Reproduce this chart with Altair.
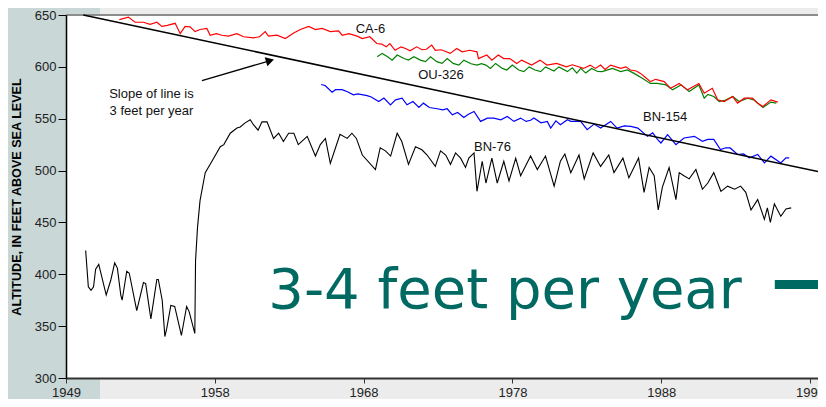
import altair as alt
import pandas as pd

# ---------------- data ----------------
BN76_YEAR = [1950.32, 1950.5, 1950.68, 1950.85, 1950.99, 1951.2, 1951.7, 1952.0, 1952.27, 1952.45,
             1952.68, 1952.77, 1953.08, 1953.25, 1953.75, 1954.2, 1954.35, 1954.7, 1955.1, 1955.2,
             1955.46, 1955.64, 1955.77, 1956.04, 1956.3, 1956.75, 1957.1, 1957.27, 1957.65, 1957.7,
             1957.83, 1958.0, 1958.35, 1958.8, 1959.36, 1959.6, 1960.03, 1960.48, 1960.7, 1961.03,
             1961.37, 1961.6, 1961.9, 1962.16, 1962.5, 1962.94, 1963.28, 1963.6, 1963.95, 1964.3,
             1964.6, 1965.2, 1965.75, 1966.08, 1966.42, 1966.75, 1967.1, 1967.4, 1967.88, 1968.2,
             1968.5, 1968.9, 1969.78, 1970.1, 1970.45, 1970.8, 1971.24, 1971.55, 1972.0, 1972.47,
             1972.9, 1973.25, 1973.8, 1974.15, 1974.5, 1974.82, 1975.16, 1975.5, 1975.83, 1976.05,
             1976.4, 1976.6, 1976.95, 1977.2, 1977.6, 1977.96, 1978.4, 1978.75, 1979.2, 1979.53,
             1980.2, 1980.65, 1981.2, 1981.78, 1982.2, 1982.5, 1982.9, 1983.45, 1983.8, 1984.4,
             1984.9, 1985.45, 1985.8, 1986.4, 1986.8, 1987.45, 1987.82, 1988.16, 1988.5, 1988.77,
             1989.05, 1989.5, 1989.96, 1990.18, 1990.5, 1990.85, 1991.3, 1991.74, 1992.1, 1992.5,
             1992.98, 1993.43, 1993.9, 1994.3, 1994.65, 1995.0, 1995.45, 1995.9, 1996.1, 1996.3,
             1996.57, 1997.0, 1997.35, 1997.7]
BN76_ALT = [423, 388, 384.5, 388, 405, 409.5, 380, 394, 411, 406,
            380, 375, 403, 401, 365, 392, 391, 357, 395, 395,
            375, 340, 348, 370, 369, 341, 369, 364, 343, 413,
            445, 471, 498, 509, 523, 525, 536, 541, 542, 546,
            549, 544, 539, 547, 547, 531, 536, 528, 536, 536,
            525, 533, 514, 525, 531, 507, 522, 535, 531, 536,
            531, 515, 501, 522, 519, 514, 536, 528, 506, 523,
            520, 515, 504, 519, 515, 506, 517, 512, 503, 512,
            517, 480, 509, 488, 512, 488, 509, 490, 512, 495,
            514, 501, 514, 485, 509, 516, 498, 515, 492, 517,
            504, 515, 498, 512, 493, 512, 479, 503, 495, 462,
            484, 503, 472, 498, 495, 492, 501, 482, 488, 498,
            480, 485, 482, 485, 479, 462, 472, 453, 464, 450,
            468, 456, 463, 464]

CA6_YEAR = [1952.58, 1953.19, 1953.64, 1954.2, 1954.65, 1955.1, 1955.44, 1955.8, 1956.33, 1956.67,
            1957.0, 1957.33, 1957.67, 1958.0, 1958.46, 1958.68, 1959.1, 1959.47, 1959.9, 1960.48,
            1960.92, 1961.6, 1962.0, 1962.38, 1962.6, 1963.17, 1963.73, 1964.29, 1964.74, 1965.3,
            1965.75, 1966.2, 1966.75, 1967.3, 1967.55, 1968.0, 1968.55, 1968.9, 1969.4, 1969.87,
            1970.2, 1970.5, 1970.75, 1971.1, 1971.5, 1971.8, 1972.1, 1972.55, 1972.9, 1973.2,
            1973.56, 1973.8, 1974.2, 1974.8, 1975.24, 1975.6, 1976.1, 1976.6, 1976.7, 1977.26,
            1977.6, 1978.03, 1978.4, 1978.8, 1979.27, 1979.6, 1980.27, 1980.83, 1981.3, 1981.95,
            1982.6, 1983.0, 1983.75, 1984.2, 1984.55, 1984.9, 1985.2, 1985.58, 1986.25, 1986.6,
            1986.9, 1987.3, 1987.58, 1987.9, 1988.24, 1988.6, 1989.17, 1989.6, 1990.18, 1990.74,
            1991.5, 1991.86, 1992.4, 1992.76, 1993.2, 1993.77, 1994.1, 1994.55, 1995.1, 1995.45,
            1995.8, 1996.34, 1996.8]
CA6_ALT = [645.5, 648, 643, 643, 641, 643, 639, 640, 642, 632,
           639, 638.5, 634, 636, 637, 630.5, 632, 630.5, 629.6, 632,
           629, 628, 629, 634, 629.6, 630.5, 627.3, 632.7, 636, 639,
           636, 637, 634, 634.7, 630.5, 632, 629.6, 627.3, 629, 622.5,
           622, 619.3, 622.5, 616, 619.3, 617.7, 615.5, 619.3, 616.5, 617,
           621, 616, 616.5, 613, 617.7, 614.5, 616, 614.5, 608, 611.4,
           606.5, 611.4, 608, 608, 603.3, 606.5, 601.7, 606.5, 601.7, 603.3,
           600, 602, 598.5, 601.7, 598.5, 601.7, 597.5, 601.7, 598.5, 600,
           597, 596, 593.7, 590, 585.8, 588, 585.8, 579.3, 584, 577.8,
           584, 574.6, 579.3, 568.2, 566.6, 571.4, 565, 569.8, 569.8, 565,
           561.8, 568.2, 566]

OU326_YEAR = [1969.9, 1970.23, 1970.6, 1970.9, 1971.24, 1971.7, 1972.0, 1972.36, 1972.8, 1973.14,
              1973.48, 1973.9, 1974.26, 1974.6, 1975.0, 1975.38, 1975.72, 1976.2, 1976.6, 1976.9,
              1977.2, 1977.5, 1977.85, 1978.3, 1978.6, 1978.97, 1979.4, 1979.75, 1980.1, 1980.5,
              1980.88, 1981.2, 1981.77, 1982.1, 1982.67, 1983.0, 1983.3, 1983.57, 1983.9, 1984.3,
              1984.7, 1985.0, 1985.7, 1986.25, 1986.7, 1987.15, 1987.7, 1988.24, 1988.7, 1989.3,
              1989.73, 1990.3, 1990.85, 1991.5, 1991.86, 1992.1, 1992.5, 1992.87, 1993.3, 1993.77,
              1994.2, 1994.77, 1995.2, 1995.8, 1996.34, 1996.7]
OU326_ALT = [609.7, 613, 609.7, 606.5, 611.4, 608, 606.5, 609.7, 606.5, 605,
             609.7, 605, 603.3, 608, 603.3, 601.7, 606.5, 603, 601.7, 603,
             601.7, 598.5, 603.3, 598.5, 597, 601.7, 597, 595.4, 600, 597,
             595.4, 600, 596, 600, 595.4, 599, 594, 598.5, 594, 598.5,
             595.5, 595.4, 598.5, 595.4, 597, 593.7, 589, 584, 584, 582.6,
             577.8, 582.6, 576.2, 582.6, 569.8, 573.5, 571.4, 566.6, 568, 571.4,
             566.6, 569.8, 568, 560.8, 566, 565]

BN154_YEAR = [1966.13, 1966.4, 1966.87, 1967.1, 1967.54, 1967.9, 1968.3, 1968.6, 1969.22, 1969.5,
              1970.0, 1970.35, 1970.79, 1971.13, 1971.57, 1971.9, 1972.3, 1972.7, 1973.0, 1973.4,
              1973.93, 1974.3, 1974.6, 1974.94, 1975.3, 1975.72, 1976.0, 1976.4, 1976.84, 1977.3,
              1977.73, 1978.2, 1978.63, 1979.08, 1979.53, 1979.9, 1980.2, 1980.42, 1980.9, 1981.32,
              1981.55, 1981.9, 1982.2, 1982.67, 1982.9, 1983.56, 1984.0, 1984.46, 1984.9, 1985.58,
              1986.0, 1986.5, 1986.93, 1987.4, 1988.05, 1988.4, 1988.72, 1988.95, 1989.4, 1989.96,
              1990.5, 1991.2, 1991.74, 1992.1, 1992.5, 1992.95, 1993.3, 1993.6, 1994.1, 1994.5,
              1994.9, 1995.45, 1995.9, 1996.34, 1997.0, 1997.35, 1997.57]
BN154_ALT = [583, 582, 575.5, 578, 578, 576, 573, 574, 572.3, 571,
             566.6, 570, 563.4, 568.2, 569.8, 563.4, 566.6, 560.8, 565, 560.8,
             559.6, 558.5, 559.6, 553.8, 556, 551.2, 554, 557, 547.4, 550.6,
             550.6, 549, 552.2, 547.4, 550.6, 547.4, 548.5, 550.6, 546, 547.4,
             541, 548, 544.2, 549, 547.4, 547.4, 539.4, 544.8, 541, 547.4,
             541, 543, 542.6, 541, 533, 536.5, 530, 526.6, 534.7, 525,
             531.4, 533, 528.2, 530, 530, 520.3, 522, 521.8, 515.5, 516,
             512.2, 515.5, 507.4, 513.9, 507.4, 512.2, 512.2]

# trend line ("slope of line is 3 feet per year")
TREND_YEAR = [1950.16, 1999.5]
TREND_ALT = [650, 499]

# series labels
LABEL_TEXT = ["CA-6", "OU-326", "BN-154", "BN-76"]
LABEL_YEAR = [1969.45, 1974.18, 1989.23, 1977.64]
LABEL_ALT = [636.1, 592.5, 551.2, 522.5]

# annotation text and arrow
NOTE_TEXT = ["Slope of line is", "3 feet per year"]
NOTE_YEAR = [1954.74, 1954.74]
NOTE_ALT = [570.4, 553.6]
ARROW_YEAR = [1958.13, 1962.61]
ARROW_ALT = [586.7, 605.6]

BIG_TEXT = ["3-4 feet per year"]
BIG_YEAR = [1978.48]
BIG_ALT = [367.2]
BAR_YEAR = [1996.6]
BAR_YEAR2 = [1999.5]
BAR_ALT = [390.2]

X_TICKS = [1949.0, 1958.99, 1968.98, 1978.98, 1988.97, 1998.96]
Y_TICKS = [300, 350, 400, 450, 500, 550, 600, 650]
X_DOMAIN = [1949, 1999.5]
Y_DOMAIN = [300, 650]

# ---------------- chart ----------------
W, H = 752, 363
FONT = "Liberation Sans"
TEAL = "#006962"

xaxis = alt.Axis(values=X_TICKS, labelExpr="'' + floor(datum.value)", title="",
                 tickSize=5, tickColor="#333333", domainColor="#333333", domainWidth=2,
                 labelFont=FONT, labelFontSize=13, labelColor="#222222", labelPadding=3,
                 grid=False, labelFlush=False, labelOverlap=False, zindex=1)
yaxis = alt.Axis(values=Y_TICKS, title="ALTITUDE, IN FEET ABOVE SEA LEVEL",
                 titleFont=FONT, titleFontSize=12.6, titleFontWeight="bold", titleColor="#000000",
                 titleX=-50, titleY=H / 2, titleAngle=270, titleAlign="center", titleBaseline="middle",
                 tickSize=8, tickColor="#000000", domainColor="#000000", domainWidth=1.5,
                 labelFont=FONT, labelFontSize=13, labelColor="#222222", labelPadding=2,
                 grid=False, zindex=1)

xenc = alt.X("year:Q", scale=alt.Scale(domain=X_DOMAIN, nice=False, zero=False), axis=xaxis)
yenc = alt.Y("alt:Q", scale=alt.Scale(domain=Y_DOMAIN, nice=False, zero=False), axis=yaxis)

one = alt.Data(values=[{"k": 1}])

strip = alt.Chart(one).mark_rect(color="#c9d7d7").encode(
    x=alt.value(-58), x2=alt.value(34), y=alt.value(-7), y2=alt.value(H + 21))
plotbg = alt.Chart(one).mark_rect(color="white").encode(
    x=alt.value(0), x2=alt.value(W), y=alt.value(0), y2=alt.value(H))
topline = alt.Chart(one).mark_rule(color="#8c8c8c", strokeWidth=2).encode(
    x=alt.value(0), x2=alt.value(W), y=alt.value(0))


def series(years, vals, color, width):
    df = pd.DataFrame({"year": years, "alt": vals})
    return alt.Chart(df).mark_line(color=color, strokeWidth=width).encode(x=xenc, y=yenc)


bn76 = series(BN76_YEAR, BN76_ALT, "#000000", 1.1)
ou326 = series(OU326_YEAR, OU326_ALT, "#008000", 1.2)
ca6 = series(CA6_YEAR, CA6_ALT, "#ff0000", 1.2)
bn154 = series(BN154_YEAR, BN154_ALT, "#0000ff", 1.2)
trend = series(TREND_YEAR, TREND_ALT, "#000000", 1.5)
arrow = series(ARROW_YEAR, ARROW_ALT, "#000000", 1.3)

arrowhead = alt.Chart(pd.DataFrame({"year": ARROW_YEAR[-1:], "alt": ARROW_ALT[-1:]})).mark_point(
    shape="triangle", filled=True, size=90, angle=73.5, color="#000000", opacity=1).encode(x=xenc, y=yenc)

labels = alt.Chart(pd.DataFrame({"year": LABEL_YEAR, "alt": LABEL_ALT, "label": LABEL_TEXT})).mark_text(
    font=FONT, fontSize=13, color="#111111", align="center", baseline="middle").encode(
    x=xenc, y=yenc, text="label:N")

notes = alt.Chart(pd.DataFrame({"year": NOTE_YEAR, "alt": NOTE_ALT, "label": NOTE_TEXT})).mark_text(
    font=FONT, fontSize=13, color="#111111", align="center", baseline="alphabetic").encode(
    x=xenc, y=yenc, text="label:N")

big = alt.Chart(pd.DataFrame({"year": BIG_YEAR, "alt": BIG_ALT, "label": BIG_TEXT})).mark_text(
    font="DejaVu Sans", fontSize=56, color=TEAL, align="center", baseline="alphabetic").encode(
    x=xenc, y=yenc, text="label:N")

bar = alt.Chart(pd.DataFrame({"year": BAR_YEAR, "year2": BAR_YEAR2, "alt": BAR_ALT})).mark_rule(
    color=TEAL, strokeWidth=9).encode(x=xenc, x2="year2:Q", y=yenc)

chart = alt.layer(
    strip, plotbg, topline, bn76, ou326, ca6, bn154, trend, arrow, arrowhead,
    labels, notes, big, bar
).properties(
    width=W, height=H,
    padding={"left": 58, "top": 7, "right": 0, "bottom": 21},
    autosize=alt.AutoSizeParams(type="none"),
    background="#ececec",
).configure_view(strokeWidth=0)

chart.save("out.html", embed_options={"renderer": "svg", "actions": False})
